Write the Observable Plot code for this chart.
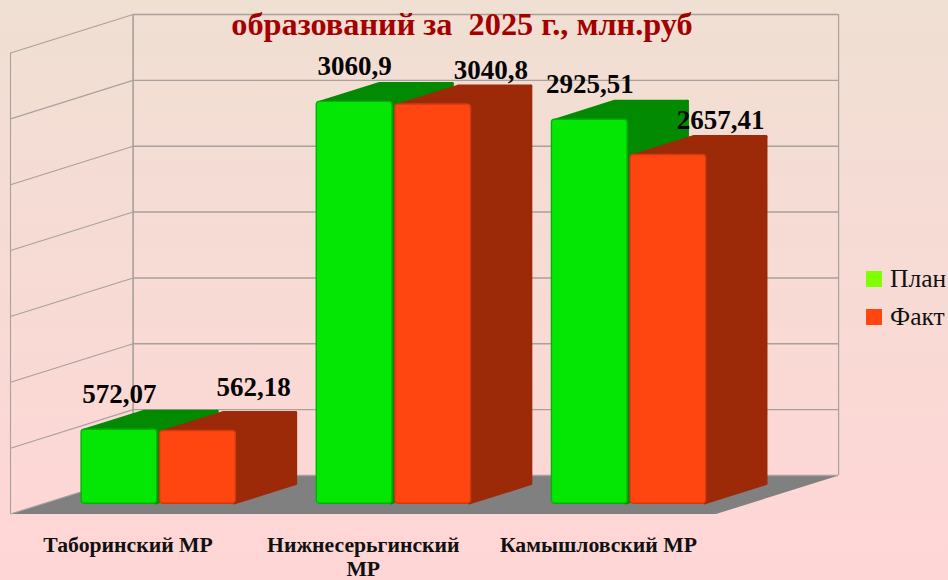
<!DOCTYPE html>
<html lang="ru">
<head>
<meta charset="utf-8">
<script src="https://cdn.jsdelivr.net/npm/d3@7"></script>
<script src="https://cdn.jsdelivr.net/npm/@observablehq/plot@0.6"></script>
<style>
  html, body { margin: 0; padding: 0; }
  body { width: 948px; height: 580px; position: relative; overflow: hidden;
         background: linear-gradient(180deg, #f0dfd3 0%, #ffd6d6 100%);
         font-family: "Liberation Serif", serif; }
  #chart svg { display: block; background: transparent; }
  #title { position: absolute; left: 0; top: 6px; width: 924px; text-align: center;
           font: bold 32.3px/36px "Liberation Serif", serif; color: #a50000; white-space: pre; }
  #legend { position: absolute; left: 866px; top: 260px; color: #111; font-size: 25.5px; line-height: 38px; }
  #legend div { display: flex; align-items: center; height: 38px; white-space: nowrap; }
  #legend i { display: block; width: 16px; height: 16px; margin-right: 8px; }
</style>
</head>
<body>
<div id="title">образований за  2025 г., млн.руб</div>
<div id="chart"></div>
<div id="legend"></div>
<script>
const categories = ["Таборинский МР", "Нижнесерьгинский\nМР", "Камышловский МР"];
const seriesNames = ["План", "Факт"];
const plan = [572.07, 3060.9, 2925.51];
const fact = [562.18, 3040.8, 2657.41];
const planLabels = ["572,07", "3060,9", "2925,51"];
const factLabels = ["562,18", "3040,8", "2657,41"];
const gridValues = [0, 500, 1000, 1500, 2000, 2500, 3000, 3500];

const colors = {
  plan: {front: "#04e604", edge: "#07b007", top: "#028a02", legend: "#80ff00"},
  fact: {front: "#ff4510", edge: "#d23a10", top: "#9c2a08", legend: "#ff4510"}
};

// Oblique projection: depth 0 is the front of the floor, depth 1 the back wall.
const depthX = 0.5213;      // in category widths
const depthY = 292.5;       // in value units
const px = (i, d) => i + d * depthX;
const py = (v, d) => v - (1 - d) * depthY;
const barFront = 0.25, barBack = 0.75, barWidth = 0.322, barGap = 0.006;
const insX = 0.0064, insV = 11.4, insFront = 5;
const maxV = gridValues[gridValues.length - 1];
const nCat = categories.length;

const poly = (pts, fill, stroke, strokeWidth = 0) =>
  Plot.line(pts, {x: "x", y: "y", fill, stroke, strokeWidth, strokeLinejoin: "round", curve: "linear-closed"});
const P = (i, v, d) => ({x: px(i, d), y: py(v, d)});

const marks = [];

// floor
marks.push(poly([P(0, 0, 0), P(nCat, 0, 0), P(nCat, 0, 1), P(0, 0, 1)], "#808080", "none"));

// grid on the back wall and on the left wall
const gridColor = "#a8a09c";
marks.push(Plot.ruleY(gridValues, {x1: px(0, 1), x2: px(nCat, 1), stroke: gridColor, strokeWidth: 1.4}));
marks.push(Plot.link(gridValues, {x1: px(0, 0), x2: px(0, 1), y1: v => py(v, 0), y2: v => py(v, 1), stroke: gridColor, strokeWidth: 1.1}));
marks.push(Plot.ruleX([px(0, 1)], {y1: 0, y2: maxV, stroke: gridColor, strokeWidth: 1.6}));
marks.push(Plot.ruleX([px(nCat, 1)], {y1: 0, y2: maxV, stroke: gridColor, strokeWidth: 1.2}));
marks.push(Plot.ruleX([px(0, 0)], {y1: py(0, 0), y2: py(maxV, 0), stroke: gridColor, strokeWidth: 1.1}));

// bars
const rows = [];
categories.forEach((c, k) => {
  const center = k + 0.5;
  [[plan[k], colors.plan, center - barWidth - barGap, planLabels[k], 0],
   [fact[k], colors.fact, center + barGap, factLabels[k], 1]].forEach(([v, col, x0, label, s]) => {
    const x1 = x0 + barWidth;
    const xb = x1 - insX;
    marks.push(poly([P(xb, insV, barFront), P(xb, insV, barBack), P(xb, v - insV, barBack), P(xb, v - insV, barFront)], col.top, col.top, 3));
    marks.push(poly([P(x0 + insX, v - insV, barFront), P(x0 + insX, v - insV, barBack), P(xb, v - insV, barBack), P(xb, v - insV, barFront)], col.top, col.top, 3));
    marks.push(Plot.rect([0], {
      x1: () => px(x0, barFront), x2: () => px(x1, barFront),
      y1: () => py(insFront, barFront), y2: () => py(v - insFront, barFront),
      fill: col.front, stroke: col.edge, strokeWidth: 1.4, r: 3
    }));
    rows.push({label, v, s, x: px(x0 + barWidth / 2, barFront), y: py(v, barFront), k});
  });
});

// value labels (hand-placed in the original, so each orange label has its own nudge)
const factNudgeX = [0.236, 0.245, 0.222];
const factNudgeV = [67, 0, 0];
marks.push(Plot.text(rows.filter(r => r.s === 0), {
  x: "x", y: "y", text: "label", dy: -35,
  fontSize: 27, fontWeight: "bold", fill: "#050505"
}));
marks.push(Plot.text(rows.filter(r => r.s === 1), {
  x: r => r.x + factNudgeX[r.k], y: r => r.y + factNudgeV[r.k], text: "label", dy: -34,
  fontSize: 27, fontWeight: "bold", fill: "#050505"
}));

// category labels
marks.push(Plot.text(categories, {
  x: (d, i) => i + 0.5, y: py(0, 0), text: d => d, dy: 21, lineAnchor: "top",
  fontSize: 21.7, fontWeight: "bold", fill: "#111", lineHeight: 1.1
}));

const chart = Plot.plot({
  width: 948, height: 580,
  marginTop: 0, marginRight: 0, marginBottom: 0, marginLeft: 0,
  x: {type: "linear", domain: [0, nCat], range: [10, 715.5], axis: null},
  y: {type: "linear", domain: [0, maxV], range: [475, 14], axis: null},
  style: {fontFamily: "'Liberation Serif', serif", background: "transparent", overflow: "visible"},
  marks
});
document.getElementById("chart").append(chart);

const legend = document.getElementById("legend");
[colors.plan, colors.fact].forEach((c, i) => {
  const row = document.createElement("div");
  const sw = document.createElement("i");
  sw.style.background = c.legend;
  row.append(sw, document.createTextNode(seriesNames[i]));
  legend.append(row);
});
</script>
</body>
</html>
